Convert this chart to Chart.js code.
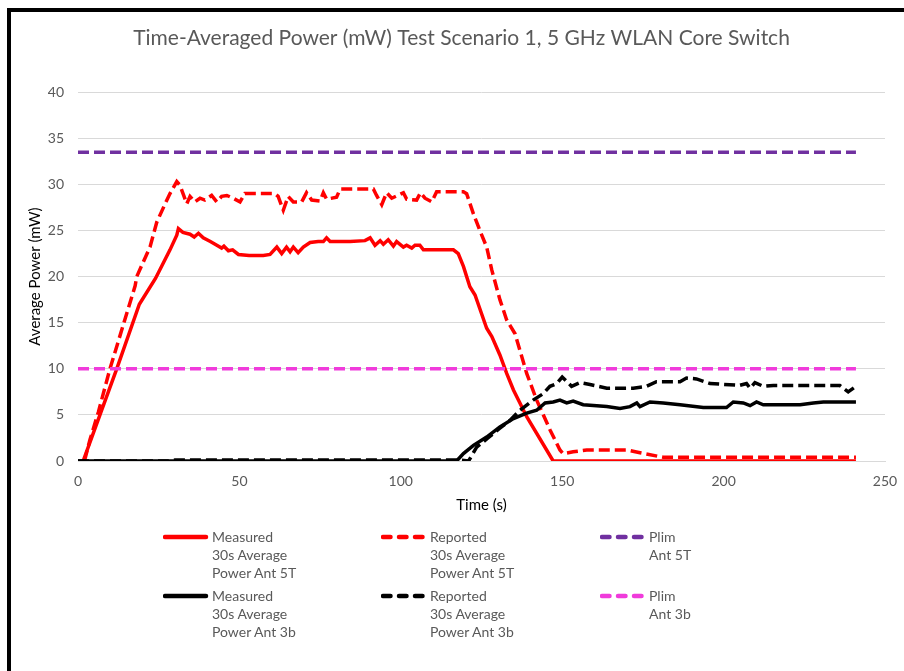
<!DOCTYPE html>
<html>
<head>
<meta charset="utf-8">
<script src="https://cdn.jsdelivr.net/npm/chart.js@4.4.1/dist/chart.umd.min.js"></script>
<style>
  body { margin: 0; background: #fff; }
  #wrap { position: relative; width: 904px; height: 671px; overflow: hidden; font-family: Lato, "Open Sans", sans-serif; }
  #frame { position: absolute; left: 7px; top: 8px; width: 1000px; height: 1000px; border-left: 4px solid #000; border-top: 4px solid #000; pointer-events: none; }
  .item { position: absolute; color: #595959; font-size: 14px; line-height: 18px; }
  .item svg { position: absolute; left: 0; top: 0; }
  .item span { position: absolute; white-space: nowrap; }
</style>
</head>
<body>
<div id="wrap">
  <canvas id="chart" width="904" height="671"></canvas>
  <div id="frame"></div>
  <div id="legend"></div>
</div>
<script>
// Measured 30s average power, antenna 5T
const meas5T_t = [1.6, 6.8, 12, 19, 24, 28.5, 30.6, 31.1, 32.5, 34.7, 36, 37.3, 38.8, 41, 43, 44.5, 45.2, 46.6, 47.9, 49.7, 53, 57.4, 59.5, 61.6, 63.1, 64.6, 65.7, 66.7, 68.2, 69.8, 71.9, 74.4, 76, 77, 78.1, 84.3, 88.9, 90.5, 92, 93.6, 94.6, 96.1, 97.7, 98.7, 100.8, 101.8, 103.4, 104.4, 105.9, 107, 116.3, 117.8, 119.4, 121.4, 123, 125, 126.6, 128.2, 130.7, 132.8, 134.9, 136.9, 139, 147.2, 241];
const meas5T_v = [0, 5, 10, 17, 19.8, 22.9, 24.5, 25.2, 24.8, 24.6, 24.3, 24.7, 24.2, 23.8, 23.4, 23.1, 23.3, 22.8, 22.9, 22.4, 22.3, 22.3, 22.4, 23.2, 22.5, 23.2, 22.7, 23.2, 22.6, 23.2, 23.7, 23.8, 23.8, 24.2, 23.8, 23.8, 23.9, 24.2, 23.4, 23.9, 23.5, 24.0, 23.3, 23.8, 23.2, 23.4, 23.1, 23.4, 23.4, 22.9, 22.9, 22.5, 21.1, 18.9, 18, 16, 14.4, 13.5, 11.5, 9.5, 7.7, 6.3, 4.8, 0, 0];

// Reported 30s average power, antenna 5T
const rep5T_t = [2, 3.7, 6.3, 9.9, 17.7, 18.2, 22.3, 24.4, 27, 28.5, 30.6, 31.6, 33.7, 34.7, 36.2, 37.8, 39.3, 41.4, 43, 44.5, 46.1, 48.1, 50.2, 51.7, 61, 62, 63.6, 65.1, 66.7, 69.3, 70.8, 72.4, 75, 76, 77, 80.1, 81.2, 91.5, 92.5, 94.1, 95.6, 97.2, 100.8, 101.8, 104.9, 106.1, 107.5, 109.6, 111.1, 119.4, 120.4, 122.5, 124.5, 126.6, 128.2, 130.7, 132.8, 135.4, 136.9, 139, 142.1, 146.2, 149.3, 150.3, 153.4, 157.6, 170, 174.1, 181.3, 241];
const rep5T_v = [0, 2.3, 5.3, 10, 19, 20, 23.2, 25.9, 27.9, 29, 30.3, 29.9, 27.9, 28.7, 28.1, 28.5, 28.3, 28.8, 28.1, 28.7, 28.8, 28.5, 28.1, 29, 29, 28.7, 27.2, 28.7, 28.1, 28.1, 29.1, 28.3, 28.2, 29.1, 28.4, 28.6, 29.5, 29.5, 28.8, 27.8, 29.1, 28.5, 29.1, 28.4, 28.3, 29.1, 28.5, 28.1, 29.2, 29.2, 29, 26.8, 25, 23.2, 20.7, 17.5, 15.3, 13.8, 12, 9.5, 6.6, 3.4, 1.2, 0.8, 1.0, 1.2, 1.2, 0.9, 0.4, 0.4];

// Measured 30s average power, antenna 3b
const meas3b_t = [0, 117.3, 119.4, 122.5, 126.6, 130.7, 134.9, 139, 142.1, 144.7, 147.2, 149.3, 151.4, 153.4, 156.5, 160.7, 163.8, 167.9, 171, 173.1, 174.1, 177.2, 181.3, 186.5, 193.7, 200.9, 203, 206.1, 208.2, 210.2, 212.3, 223.7, 227.8, 230.9, 241];
const meas3b_v = [0, 0, 0.8, 1.7, 2.6, 3.7, 4.6, 5.2, 5.5, 6.3, 6.4, 6.6, 6.3, 6.5, 6.1, 6.0, 5.9, 5.7, 5.9, 6.3, 5.9, 6.4, 6.3, 6.1, 5.8, 5.8, 6.4, 6.3, 6.0, 6.4, 6.1, 6.1, 6.3, 6.4, 6.4];

// Reported 30s average power, antenna 3b
const rep3b_t = [0, 28, 30, 118, 121, 123.5, 127, 130.5, 133.8, 136.9, 141, 144.1, 146.2, 148.3, 150, 152.9, 155.5, 158.6, 163.8, 172, 176.1, 179.2, 186.5, 188.5, 191.6, 195.8, 205, 207.1, 208.2, 209.7, 212.3, 215.4, 236, 238.6, 241];
const rep3b_v = [0, 0, 0.1, 0.1, 0, 1.5, 2.5, 3.5, 4.4, 5.5, 6.6, 7.3, 8.1, 8.4, 9.1, 8.1, 8.5, 8.3, 7.9, 7.9, 8.1, 8.6, 8.6, 9.0, 8.9, 8.4, 8.2, 8.4, 7.9, 8.5, 8.1, 8.2, 8.2, 7.5, 8.1];

// Power limits
const plim5T_t = [0, 241];
const plim5T_v = [33.5, 33.5];
const plim3b_t = [0, 241];
const plim3b_v = [10, 10];

const seriesLabels = [
  ["Measured", "30s Average", "Power Ant 5T"],
  ["Reported", "30s Average", "Power Ant 5T"],
  ["Plim", "Ant 5T"],
  ["Measured", "30s Average", "Power Ant 3b"],
  ["Reported", "30s Average", "Power Ant 3b"],
  ["Plim", "Ant 3b"]
];
const seriesColors = ["#FF0000", "#FF0000", "#7030A0", "#000000", "#000000", "#F03BDB"];
const seriesDashed = [false, true, true, false, true, true];

const xTicks = [0, 50, 100, 150, 200, 250];
const yTicks = [0, 5, 10, 15, 20, 25, 30, 35, 40];

function pts(t, v) {
  return t.map((x, i) => ({ x: x, y: v[i] }));
}

const seriesData = [
  pts(meas5T_t, meas5T_v),
  pts(rep5T_t, rep5T_v),
  pts(plim5T_t, plim5T_v),
  pts(meas3b_t, meas3b_v),
  pts(rep3b_t, rep3b_v),
  pts(plim3b_t, plim3b_v)
];

const datasets = seriesData.map((d, i) => ({
  label: seriesLabels[i].join(" "),
  data: d,
  borderColor: seriesColors[i],
  backgroundColor: seriesColors[i],
  borderWidth: 3.5,
  borderDash: seriesDashed[i] ? [11, 5] : [],
  pointRadius: 0,
  tension: 0,
  fill: false,
  order: 6 - i
}));

const gray = "#595959";
const ctx = document.getElementById("chart").getContext("2d");
const chart = new Chart(ctx, {
  type: "line",
  data: { datasets },
  options: {
    responsive: false,
    animation: false,
    devicePixelRatio: 1,
    layout: { padding: { left: 38, right: 19, top: 0, bottom: 157 } },
    plugins: {
      legend: { display: false },
      tooltip: { enabled: false },
      title: {
        display: true,
        text: "Time-Averaged Power (mW) Test Scenario 1, 5 GHz WLAN Core Switch",
        color: gray,
        font: { family: "Lato", size: 21, weight: "normal" },
        padding: { top: 26, bottom: 41 }
      }
    },
    scales: {
      x: {
        type: "linear",
        min: 0,
        max: 250,
        afterBuildTicks: s => { s.ticks = xTicks.map(v => ({ value: v })); },
        afterFit: s => { s.height = 53; s.paddingLeft = 0; s.paddingRight = 0; },
        ticks: { color: gray, font: { family: "Lato", size: 14 }, padding: 12 },
        grid: { display: false, drawTicks: false },
        border: { display: true, color: "#D9D9D9", width: 1 },
        title: {
          display: true,
          text: "Time (s)",
          color: "#000",
          font: { family: "Lato", size: 15 },
          padding: { top: 0, bottom: 0 }
        }
      },
      y: {
        min: 0,
        max: 40,
        afterBuildTicks: s => { s.ticks = yTicks.map(v => ({ value: v })); },
        afterFit: s => { s.width = 40; },
        ticks: { color: gray, font: { family: "Lato", size: 14 }, padding: 14 },
        grid: { color: "#D9D9D9", lineWidth: 1, drawTicks: false },
        border: { display: false },
        title: {
          display: true,
          text: "Average Power (mW)",
          color: "#000",
          font: { family: "Lato", size: 15 },
          // pulled left of the scale box so the plot title can stay centred
          padding: { top: -12, bottom: 0 }
        }
      }
    }
  }
});

// HTML legend, 3 columns x 2 rows, multi-line labels
const legendCols = [163, 381, 600];
const legendRows = [528, 587];
const legend = document.getElementById("legend");
chart.data.datasets.forEach((ds, i) => {
  const col = i % 3;
  const row = Math.floor(i / 3);
  const item = document.createElement("div");
  item.className = "item";
  item.style.left = legendCols[col] + "px";
  item.style.top = legendRows[row] + "px";
  const dash = seriesDashed[i] ? 'stroke-dasharray="7.5 8.5" stroke-linecap="round"' : 'stroke-linecap="round"';
  item.innerHTML =
    `<svg width="46" height="18"><line x1="2" y1="9" x2="43" y2="9" stroke="${ds.borderColor}" stroke-width="4.5" ${dash}/></svg>` +
    `<span style="left:49px;top:0">${seriesLabels[i].join("<br>")}</span>`;
  legend.appendChild(item);
});
</script>
</body>
</html>
